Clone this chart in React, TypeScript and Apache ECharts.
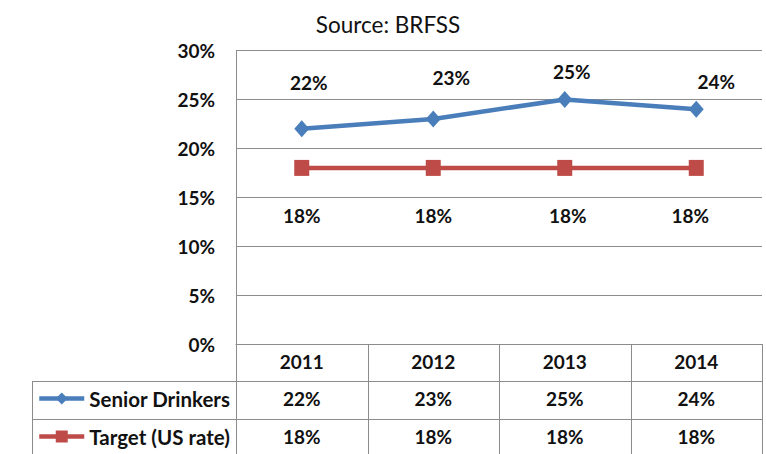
import React, { useEffect, useRef } from 'react';
import * as echarts from 'echarts';

const years = ['2011', '2012', '2013', '2014'];
const seniorDrinkers = [22, 23, 25, 24];
const targetRate = [18, 18, 18, 18];
const seriesNames = ['Senior Drinkers', 'Target (US rate)'];
const titleText = 'Source: BRFSS';

const seniorLabelOffsets = [[7, -46], [18, -41], [7, -28], [20, -28]];
const targetLabelOffsets = [[0, 48], [0, 48], [3, 48], [-6, 48]];

const W = 766;
const H = 454;
const GL = 236;
const GR = 762;
const GT = 50.5;
const GB = 344;
const ROW1 = 381;
const ROW2 = 419;
const TABLE_LEFT = 32;
const FONT = 'Lato, "Open Sans", sans-serif';
const BLUE = '#4A7EBB';
const RED = '#BE4B48';
const GRID_COLOR = '#8C8C8C';
const FS = 19;

export default function App() {
  const ref = useRef<HTMLDivElement>(null);
  useEffect(() => {
    if (!ref.current) return;
    const chart = echarts.init(ref.current, null, { renderer: 'svg' });
    const colW = (GR - GL) / years.length;
    const lines: any[] = [];
    for (let k = 0; k <= years.length; k++) {
      const x = Math.round(GL + k * colW) + 0.5;
      lines.push({ type: 'line', shape: { x1: x, y1: GB, x2: x, y2: H }, style: { stroke: GRID_COLOR, lineWidth: 1 } });
    }
    [ROW1, ROW2].forEach((y) => {
      lines.push({ type: 'line', shape: { x1: TABLE_LEFT, y1: y + 0.5, x2: GR, y2: y + 0.5 }, style: { stroke: GRID_COLOR, lineWidth: 1 } });
    });
    lines.push({ type: 'line', shape: { x1: TABLE_LEFT + 0.5, y1: ROW1, x2: TABLE_LEFT + 0.5, y2: H }, style: { stroke: GRID_COLOR, lineWidth: 1 } });

    const boldText = { fontFamily: FONT, fontWeight: 'bold', fontSize: FS, color: '#111' };

    const rowAxis = (values: number[], offset: number) => ({
      type: 'category',
      data: years,
      position: 'bottom',
      offset,
      axisLine: { show: false },
      axisTick: { show: false },
      axisLabel: {
        ...boldText,
        margin: 7,
        formatter: (_v: string, i: number) => values[i] + '%',
      },
    });

    const legendBase = {
      orient: 'vertical',
      left: 37,
      padding: 0,
      itemWidth: 45,
      itemHeight: 15,
      itemGap: 5,
      textStyle: { ...boldText, fontSize: 20.5 },
      lineStyle: { width: 4.5 },
    };

    chart.setOption({
      animation: false,
      title: {
        text: titleText,
        left: 383,
        textAlign: 'center',
        top: 8,
        textStyle: { fontFamily: FONT, fontWeight: 'normal', fontSize: 22.5, color: '#111' },
      },
      legend: [
        { ...legendBase, data: [seriesNames[0]], top: 388 },
        { ...legendBase, data: [seriesNames[1]], top: 426 },
      ],
      grid: { left: GL, right: W - GR, top: GT, bottom: H - GB, containLabel: false },
      xAxis: [
        {
          type: 'category',
          data: years,
          boundaryGap: true,
          axisLine: { show: true, lineStyle: { color: GRID_COLOR, width: 1 } },
          axisTick: { show: false },
          axisLabel: { ...boldText, margin: 8 },
        },
        rowAxis(seniorDrinkers, 37.5),
        rowAxis(targetRate, 75.5),
      ],
      yAxis: {
        type: 'value',
        min: 0,
        max: 30,
        interval: 5,
        axisLine: { show: true, lineStyle: { color: GRID_COLOR, width: 1 } },
        axisTick: { show: false },
        splitLine: { show: true, lineStyle: { color: GRID_COLOR, width: 1 } },
        axisLabel: { ...boldText, margin: 21, formatter: (v: number) => v + '%' },
      },
      series: [
        {
          name: seriesNames[0],
          type: 'line',
          xAxisIndex: 0,
          data: seniorDrinkers.map((v, i) => ({
            value: v,
            label: { offset: seniorLabelOffsets[i] },
          })),
          symbol: 'diamond',
          symbolSize: [15, 17],
          lineStyle: { color: BLUE, width: 4.5 },
          itemStyle: { color: BLUE },
          label: {
            show: true,
            position: 'inside',
            ...boldText,
            formatter: (p: any) => p.value + '%',
          },
        },
        {
          name: seriesNames[1],
          type: 'line',
          xAxisIndex: 0,
          data: targetRate.map((v, i) => ({
            value: v,
            label: { offset: targetLabelOffsets[i] },
          })),
          symbol: 'rect',
          symbolSize: [15, 16],
          lineStyle: { color: RED, width: 4.5 },
          itemStyle: { color: RED },
          label: {
            show: true,
            position: 'inside',
            ...boldText,
            formatter: (p: any) => p.value + '%',
          },
        },
      ],
      graphic: lines,
    });
    return () => chart.dispose();
  }, []);
  return <div ref={ref} style={{ position: 'fixed', left: 0, top: 0, width: W, height: H, background: '#fff' }} />;
}
